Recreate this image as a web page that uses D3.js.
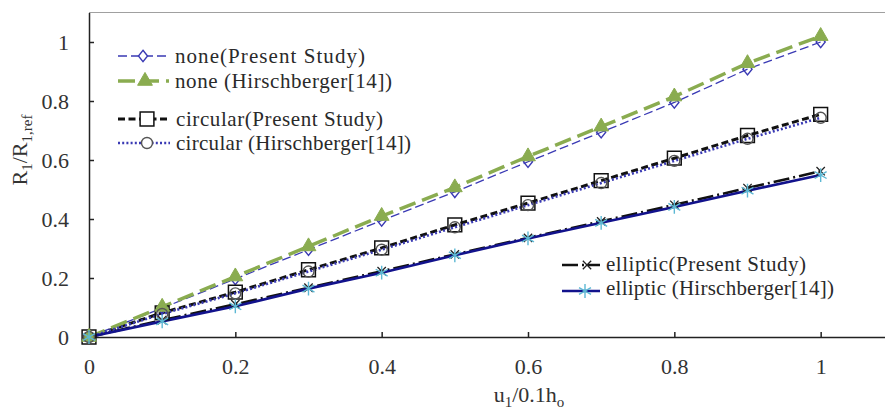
<!DOCTYPE html>
<html>
<head>
<meta charset="utf-8">
<script src="https://cdn.jsdelivr.net/npm/d3@7"></script>
<style>
  body { margin: 0; background: #fff; }
  svg text { font-family: "Liberation Serif", "DejaVu Serif", serif; }
  .axis text { font-size: 22px; fill: #333; }
  .axis path, .axis line { stroke: #222; stroke-width: 1.5; }
  .legend text { font-size: 21px; fill: #2a2a2a; }
</style>
</head>
<body>
<svg id="chart" width="885" height="412"></svg>
<script>
const xs = [0, 0.1, 0.2, 0.3, 0.4, 0.5, 0.6, 0.7, 0.8, 0.9, 1];
const nonePresent = [0, 0.098, 0.197, 0.296, 0.395, 0.492, 0.594, 0.694, 0.795, 0.908, 1.0];
const noneHirsch = [0, 0.102, 0.205, 0.307, 0.41, 0.507, 0.612, 0.713, 0.815, 0.928, 1.02];
const circPresent = [0, 0.082, 0.152, 0.228, 0.302, 0.38, 0.454, 0.53, 0.606, 0.683, 0.755];
const circHirsch = [0, 0.078, 0.148, 0.222, 0.296, 0.372, 0.447, 0.522, 0.597, 0.672, 0.743];
const ellPresent = [0, 0.057, 0.111, 0.167, 0.223, 0.28, 0.336, 0.392, 0.448, 0.505, 0.562];
const ellHirsch = [0, 0.053, 0.104, 0.164, 0.218, 0.277, 0.334, 0.387, 0.441, 0.496, 0.549];
const xTicks = [0, 0.2, 0.4, 0.6, 0.8, 1];
const yTicks = [0, 0.2, 0.4, 0.6, 0.8, 1];
const xTickLabels = ['0', '0.2', '0.4', '0.6', '0.8', '1'];
const yTickLabels = ['0', '0.2', '0.4', '0.6', '0.8', '1'];

const svg = d3.select('#chart');

const x = d3.scaleLinear().domain([0, 1.2]).range([89, 967]);
const y = d3.scaleLinear().domain([0, 1.1]).range([337, 12.5]);

// custom marker shapes
const diamond = {
  draw(ctx, size) {
    const h = Math.sqrt(size) * 0.6, w = h * 0.8;
    ctx.moveTo(0, -h); ctx.lineTo(w, 0); ctx.lineTo(0, h); ctx.lineTo(-w, 0); ctx.closePath();
  }
};
const times = {
  draw(ctx, size) {
    const r = Math.sqrt(size) / 2;
    ctx.moveTo(-r, -r); ctx.lineTo(r, r);
    ctx.moveTo(r, -r); ctx.lineTo(-r, r);
  }
};
const asterisk = {
  draw(ctx, size) {
    const r = Math.sqrt(size) / 2;
    for (let i = 0; i < 3; i++) {
      const a = Math.PI / 2 + i * Math.PI / 3;
      ctx.moveTo(r * Math.cos(a), r * Math.sin(a));
      ctx.lineTo(-r * Math.cos(a), -r * Math.sin(a));
    }
  }
};

const series = [
  { name: 'none(Present Study)', values: nonePresent, color: '#3a3ab4', width: 1.3, dash: '9,4',
    symbol: diamond, size: 90, fill: 'none', mstroke: '#3a3ab4', mwidth: 1.4, leg: [118, 169, 143, 56, 63, 190] },
  { name: 'circular(Present Study)', values: circPresent, color: '#111', width: 3, dash: '7,3.5',
    symbol: d3.symbolSquare, size: 190, fill: 'none', mstroke: '#111', mwidth: 1.5, leg: [118, 170, 147, 119, 126, 207] },
  { name: 'elliptic(Present Study)', values: ellPresent, color: '#111', width: 2.6, dash: '16,4,2,4',
    symbol: times, size: 70, fill: 'none', mstroke: '#222', mwidth: 1.3, leg: [562, 600, 587, 265, 271, 200] },
  { name: 'none (Hirschberger[14])', values: noneHirsch, color: '#8aac50', width: 3.5, dash: '17,7',
    symbol: d3.symbolTriangle, size: 95, fill: '#8aac50', mstroke: '#8aac50', mwidth: 1, leg: [118, 169, 145, 81, 88, 217] },
  { name: 'circular (Hirschberger[14])', values: circHirsch, color: '#3a3ab4', width: 2.6, dash: '2,2.2',
    symbol: d3.symbolCircle, size: 95, fill: 'none', mstroke: '#555', mwidth: 1.4, leg: [118, 170, 147, 143, 150, 235] },
  { name: 'elliptic (Hirschberger[14])', values: ellHirsch, color: '#12128c', width: 2.6, dash: null,
    symbol: asterisk, size: 190, fill: 'none', mstroke: '#5cb8d4', mwidth: 1.4, leg: [562, 600, 585, 291, 295, 228] }
];

// top frame line
svg.append('line')
    .attr('x1', x(0)).attr('x2', 885)
    .attr('y1', y(1.1)).attr('y2', y(1.1))
    .attr('stroke', '#a0a0a0').attr('stroke-width', 1.2);

svg.append('g')
    .attr('class', 'axis')
    .attr('transform', `translate(0,${y(0)})`)
    .call(d3.axisBottom(x).tickValues(xTicks).tickFormat((d, i) => xTickLabels[i])
      .tickSizeInner(-5).tickSizeOuter(0).tickPadding(21));

svg.append('g')
    .attr('class', 'axis')
    .attr('transform', `translate(${x(0)},0)`)
    .call(d3.axisLeft(y).tickValues(yTicks).tickFormat((d, i) => yTickLabels[i])
      .tickSizeInner(-5).tickSizeOuter(0).tickPadding(20));

const line = d3.line()
    .x((d, i) => x(xs[i]))
    .y(d => y(d));

const lines = svg.append('g').attr('class', 'lines');
series.forEach(s => {
  lines.append('path')
      .attr('d', line(s.values))
      .attr('fill', 'none')
      .attr('stroke', s.color)
      .attr('stroke-width', s.width)
      .attr('stroke-dasharray', s.dash);
});

const markers = svg.append('g').attr('class', 'markers');
series.forEach(s => {
  markers.append('g')
    .selectAll('path')
    .data(s.values)
    .join('path')
      .attr('transform', (d, i) => `translate(${x(xs[i])},${y(d)})`)
      .attr('d', d3.symbol(s.symbol, s.size))
      .attr('fill', s.fill)
      .attr('stroke', s.mstroke)
      .attr('stroke-width', s.mwidth);
});

// legends
const legend = svg.append('g').attr('class', 'legend');
series.forEach(s => {
  const [x0, x1, mx, ly, ty, tw] = s.leg;
  legend.append('line')
      .attr('x1', x0).attr('x2', x1).attr('y1', ly).attr('y2', ly)
      .attr('stroke', s.color)
      .attr('stroke-width', s.width)
      .attr('stroke-dasharray', s.dash);
  legend.append('path')
      .attr('transform', `translate(${mx},${ly})`)
      .attr('d', d3.symbol(s.symbol, s.size))
      .attr('fill', s.fill === 'none' ? '#fff' : s.fill)
      .attr('stroke', s.mstroke)
      .attr('stroke-width', s.mwidth);
  legend.append('text')
      .attr('x', x1 + 6)
      .attr('y', ty)
      .attr('textLength', tw)
      .attr('lengthAdjust', 'spacing')
      .text(s.name);
});

// axis titles
const xt = svg.append('text')
    .attr('x', 529).attr('y', 402)
    .attr('text-anchor', 'middle')
    .attr('font-size', 22).attr('fill', '#333');
xt.append('tspan').text('u');
xt.append('tspan').attr('font-size', 15).attr('dy', 5).text('1');
xt.append('tspan').attr('dy', -5).text('/0.1h');
xt.append('tspan').attr('font-size', 15).attr('dy', 5).text('o');

const yt = svg.append('text')
    .attr('transform', 'translate(27,150) rotate(-90)')
    .attr('text-anchor', 'middle')
    .attr('font-size', 22).attr('fill', '#333');
yt.append('tspan').text('R');
yt.append('tspan').attr('font-size', 15).attr('dy', 5).text('1');
yt.append('tspan').attr('dy', -5).text('/R');
yt.append('tspan').attr('font-size', 15).attr('dy', 5).text('1,ref');
</script>
</body>
</html>
